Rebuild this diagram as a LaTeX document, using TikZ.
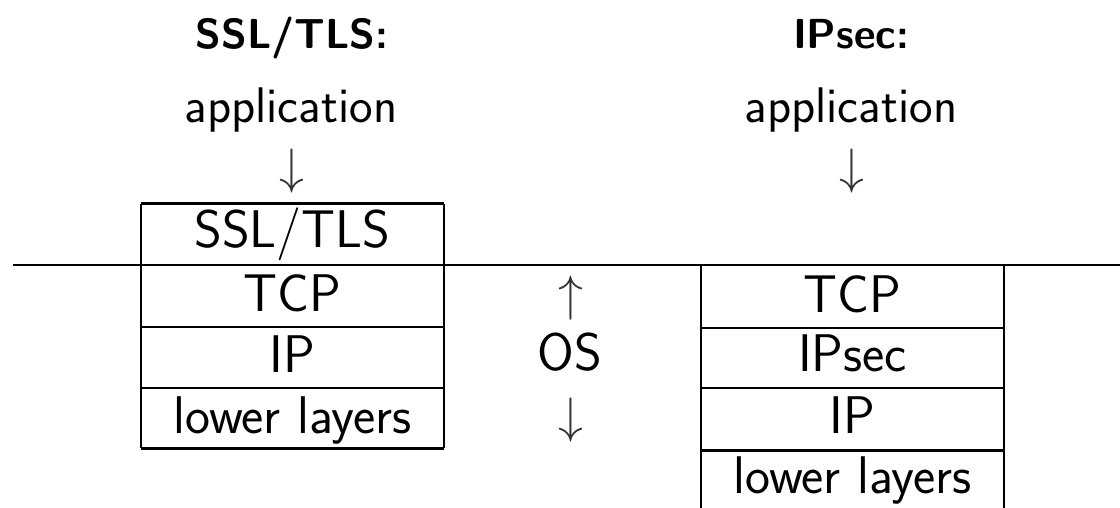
\documentclass[tikz,border=0pt]{standalone}
\usepackage{fontspec}
\begin{document}
\begin{tikzpicture}[x=0.5pt,y=-0.5pt,
  rule/.style={line width=0.8pt},
  heavyrule/.style={line width=1.5pt},
  celltext/.style={font=\fontsize{26.5}{30}\selectfont\sffamily, anchor=base, inner sep=0pt},
  apptext/.style={font=\fontsize{25}{28}\selectfont\sffamily, anchor=base, inner sep=0pt},
  titletext/.style={font=\fontsize{21}{25}\selectfont\sffamily\bfseries, anchor=base, inner sep=0pt},
  arrowsym/.style={font=\fontsize{26}{30}\selectfont, inner sep=0pt, text=black!80}]
\useasboundingbox (0,0) rectangle (1120,508);
% titles
\node[titletext] (t1) at (292,49) {SSL/TLS:};
\node[titletext] (t2) at (851,49) {IPsec:};
\node[apptext] (a1) at (291,123) {application};
\node[apptext] (a2) at (851,123) {application};
\node[arrowsym] (d1) at (292,171.5) {$\downarrow$};
\node[arrowsym] (d2) at (852,171.5) {$\downarrow$};
% OS boundary
\draw[rule] (13,265) -- (1120,265);
% left stack
\draw[rule] (141,204) -- (141,448) (444,204) -- (444,448);
\draw[heavyrule] (141,204) -- (444,204);
\draw[heavyrule] (141,448) -- (444,448);
\draw[rule] (141,327) -- (444,327) (141,388) -- (444,388);
\node[celltext] (l1) at (292.5,248) {SSL/TLS};
\node[celltext] (l2) at (292.5,311) {TCP};
\node[celltext] (l3) at (292.5,372) {IP};
\node[celltext] (l4) at (292.5,433) {lower layers};
% OS
\node[arrowsym] (u0) at (571,298.5) {$\uparrow$};
\node[celltext] (os) at (570,370) {OS};
\node[arrowsym] (d0) at (571,420) {$\downarrow$};
% right stack
\draw[rule] (701,265) -- (701,508) (1004,265) -- (1004,508);
\draw[rule] (701,328) -- (1004,328) (701,388) -- (1004,388);
\draw[heavyrule] (701,450) -- (1004,450);
\node[celltext] (r1) at (852.5,312) {TCP};
\node[celltext] (r2) at (852.5,371) {IPsec};
\node[celltext] (r3) at (852.5,433) {IP};
\node[celltext] (r4) at (852.5,493) {lower layers};
\end{tikzpicture}
\end{document}
